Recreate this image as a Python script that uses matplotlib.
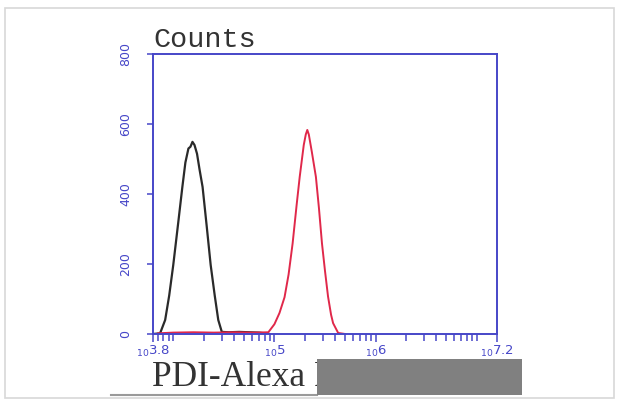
import numpy as np
import matplotlib
matplotlib.use("Agg")
import matplotlib.pyplot as plt
from matplotlib.patches import Rectangle
from matplotlib.lines import Line2D

# values (x in log10 units, y in counts)
black_log = [3.80, 3.87, 3.92, 3.96, 4.00, 4.05, 4.09, 4.12, 4.15, 4.17, 4.19, 4.21,
             4.235, 4.26, 4.29, 4.33, 4.37, 4.41, 4.445, 4.48, 4.55, 4.65, 4.75, 4.85, 4.95]
black_cnt = [0, 2, 40, 110, 197, 320, 420, 490, 530, 535, 549, 540,
             515, 470, 420, 310, 197, 110, 40, 6, 5, 6, 5, 4, 0]

red_log = [3.85, 4.00, 4.20, 4.40, 4.60, 4.80, 4.94, 5.00, 5.05, 5.10, 5.14, 5.18, 5.22,
           5.25, 5.29, 5.31, 5.325, 5.34, 5.37, 5.41, 5.44, 5.47, 5.50, 5.53, 5.56,
           5.58, 5.63, 5.70]
red_cnt = [2, 4, 5, 4, 5, 4, 5, 28, 60, 105, 170, 259, 370,
           449, 540, 570, 583, 570, 520, 449, 360, 259, 180, 107, 55,
           31, 3, 0]

xtick_exp = [3.8, 5, 6, 7.2]
xtick_labels = ["3.8", "5", "6", "7.2"]
yticks = [0, 200, 400, 600, 800]

blue = "#4646c8"

fig = plt.figure(figsize=(6.2, 4.03), dpi=100)
ax = fig.add_axes([0.2468, 0.1712, 0.5548, 0.6948])

ax.plot(10 ** np.array(black_log), black_cnt, color="#2a2a2a", lw=1.6)
ax.plot(10 ** np.array(red_log), red_cnt, color="#e0284a", lw=1.4)

ax.set_xscale("log")
ax.set_xlim(10 ** 3.8, 10 ** 7.2)
ax.set_ylim(0, 800)

for s in ax.spines.values():
    s.set_color(blue)
    s.set_linewidth(1.4)

ax.set_xticks([10 ** e for e in xtick_exp])
ax.set_xticklabels([r"$_{10}$" + t for t in xtick_labels], color=blue, fontsize=9.5)
ax.xaxis.set_minor_locator(matplotlib.ticker.LogLocator(base=10, subs=np.arange(1, 10)))
ax.xaxis.set_minor_formatter(matplotlib.ticker.NullFormatter())
ax.tick_params(axis="x", which="both", direction="out", color=blue, width=1.1, pad=1)
ax.tick_params(axis="x", which="major", length=6)
ax.tick_params(axis="x", which="minor", length=5)

ax.set_yticks(yticks)
ax.set_yticklabels([str(v) for v in yticks], rotation=90, va="center",
                   color=blue, fontsize=9)
ax.tick_params(axis="y", direction="out", length=4, color=blue, width=1.1, pad=11)

fig.text(153 / 620, 1 - 40 / 403, "Counts", family="Liberation Mono", fontsize=20.5,
         color="#333333", va="center", ha="left")
fig.text(152 / 620, 1 - 377 / 403, "PDI-Alexa Fluor 488", family="Liberation Serif",
         fontsize=25.5, color="#333333", va="center", ha="left")

# gray box covering the end of the label, as in the picture
fig.patches.append(Rectangle((317 / 620, 1 - 395 / 403), 205 / 620, 36 / 403,
                             transform=fig.transFigure, facecolor="#808080",
                             edgecolor="none", zorder=5))
fig.lines.append(Line2D([111 / 620, 317 / 620], [1 - 395 / 403, 1 - 395 / 403],
                        transform=fig.transFigure, color="#9a9a9a", lw=1.5))
# outer frame
fig.patches.append(Rectangle((5 / 620, 1 - 398 / 403), 609 / 620, 390 / 403,
                             transform=fig.transFigure, facecolor="none",
                             edgecolor="#d8d8d8", lw=1.2))

fig.savefig("out.png", dpi=100)
